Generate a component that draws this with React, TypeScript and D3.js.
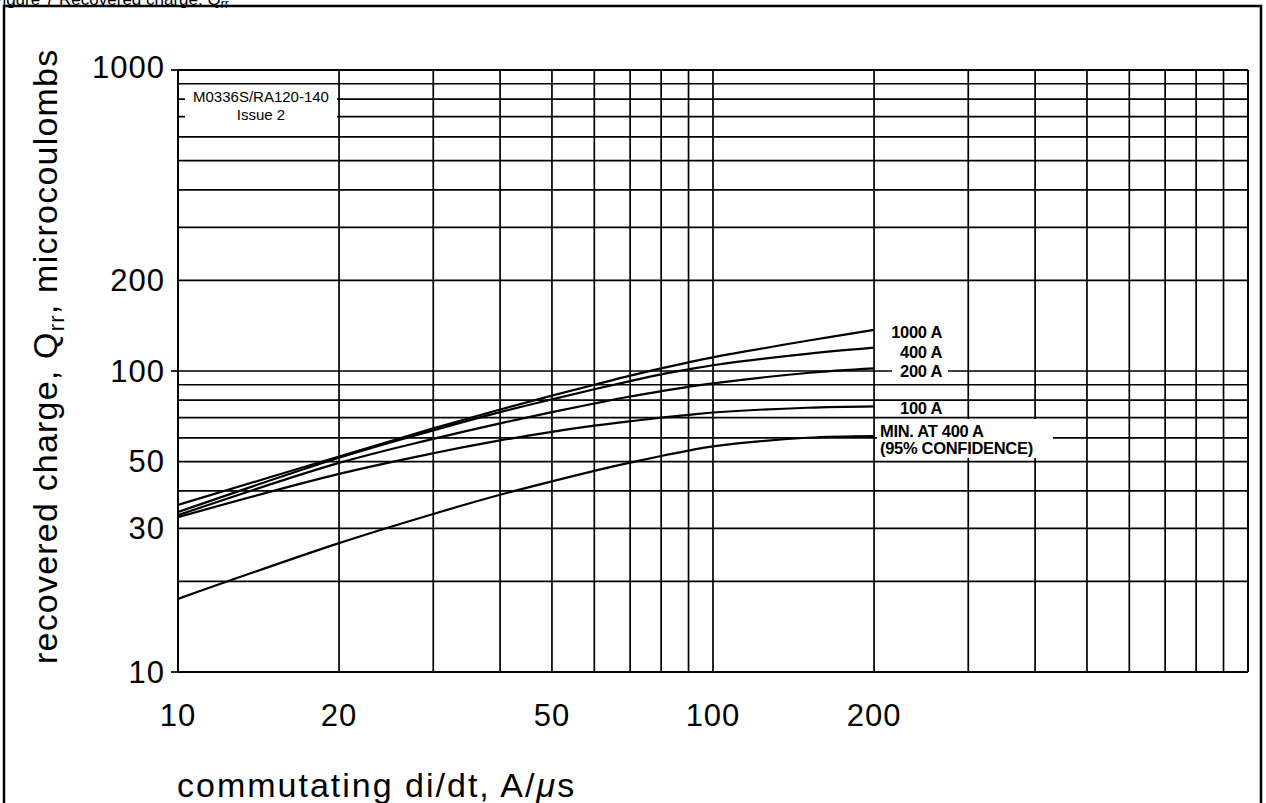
import React from 'react';
import * as d3 from 'd3';

// commutating di/dt, A/us
const DIDT = [10, 20, 30, 40, 50, 60, 70, 80, 90, 100, 150, 200];
// recovered charge Qrr, microcoulombs
const Q_1000A = [35.9, 52.0, 64.5, 74.5, 82.8, 90.0, 96.5, 102, 106.8, 111, 126, 137];
const Q_400A = [34.0, 51.5, 63.5, 73, 80.5, 87, 92.5, 97.5, 101.3, 104.5, 114, 119.5];
const Q_200A = [33.2, 49.5, 59.5, 67, 73, 78, 82.3, 85.7, 88.6, 91, 98.5, 102];
const Q_100A = [32.7, 45.5, 53.3, 58.8, 62.8, 65.8, 68.1, 70, 71.5, 72.8, 75.5, 76.3];
const Q_MIN = [17.5, 26.8, 33.5, 38.8, 43, 46.6, 49.6, 52.2, 54.4, 56.2, 60, 60.8];

const SERIES_NAMES = ['1000 A', '400 A', '200 A', '100 A'];
const MIN_LABEL = ['MIN. AT 400 A', '(95% CONFIDENCE)'];

const X_TICKS = [10, 20, 50, 100, 200];
const Y_TICKS = [1000, 200, 100, 50, 30, 10];
const GRID_VALUES = [10, 20, 30, 40, 50, 60, 70, 80, 90, 100, 200, 300, 400, 500, 600, 700, 800, 900, 1000];
const NOTE_LINES = ['M0336S/RA120-140', 'Issue 2'];

const FONT = "'Liberation Sans', Arial, Helvetica, sans-serif";

export default function App() {
  const W = 1266;
  const H = 803;
  const x = d3.scaleLog().domain([10, 1000]).range([178, 1248]);
  const y = d3.scaleLog().domain([10, 1000]).range([672, 70]);

  const line = d3
    .line<number>()
    .x((_, i) => x(DIDT[i]))
    .y((d) => y(d))
    .curve(d3.curveCatmullRom.alpha(0.5));

  const series = [Q_1000A, Q_400A, Q_200A, Q_100A];
  const labelDy = [2, 4, 3, 2];

  return (
    <svg
      width={W}
      height={H}
      viewBox={`0 0 ${W} ${H}`}
      style={{ position: 'absolute', left: 0, top: 0, background: '#fff' }}
      fontFamily={FONT}
    >
      <rect x={0} y={0} width={W} height={H} fill="#fff" />
      {/* caption, cut off at the top edge as in the scan */}
      <text x={-8} y={5} fontSize={17} fill="#000">
        Figure 7 Recovered charge, Q<tspan fontSize={12} dy={3}>rr</tspan>
      </text>
      {/* outer frame */}
      <rect x={4} y={6} width={1257} height={840} fill="none" stroke="#000" strokeWidth={2.5} />

      {/* grid */}
      <g stroke="#000">
        {GRID_VALUES.map((v) => (
          <line key={'v' + v} x1={x(v)} x2={x(v)} y1={y(10)} y2={y(1000)} strokeWidth={v === 10 || v === 1000 ? 2 : 1.7} />
        ))}
        {GRID_VALUES.map((v) => (
          <line key={'h' + v} x1={x(10)} x2={x(1000)} y1={y(v)} y2={y(v)} strokeWidth={v === 10 || v === 1000 ? 2 : 1.7} />
        ))}
        {[1000, 100, 10].map((v) => (
          <line key={'t' + v} x1={x(10) - 7} x2={x(10)} y1={y(v)} y2={y(v)} strokeWidth={1.7} />
        ))}
      </g>

      {/* white masks behind annotations */}
      <rect x={185} y={91} width={152} height={33} fill="#fff" />
      <rect x={892} y={363} width={56} height={16} fill="#fff" />
      <rect x={877} y={419} width={176} height={39} fill="#fff" />

      {/* note */}
      <g fontSize={15} textAnchor="middle" fill="#000">
        <text x={261} y={102}>{NOTE_LINES[0]}</text>
        <text x={261} y={120}>{NOTE_LINES[1]}</text>
      </g>

      {/* curves */}
      <g fill="none" stroke="#000" strokeWidth={2.2}>
        {series.map((s, i) => (
          <path key={i} d={line(s) || ''} />
        ))}
        <path d={line(Q_MIN) || ''} />
      </g>

      {/* curve labels */}
      <g fontSize={16.5} fontWeight="bold" fill="#000" textAnchor="end" dominantBaseline="central" letterSpacing={-0.3}>
        {series.map((s, i) => (
          <text key={i} x={942} y={y(s[s.length - 1]) + labelDy[i]}>
            {SERIES_NAMES[i]}
          </text>
        ))}
      </g>
      <g fontSize={16.5} fontWeight="bold" fill="#000" letterSpacing={-0.3}>
        <text x={880} y={y(Q_MIN[Q_MIN.length - 1]) + 1}>{MIN_LABEL[0]}</text>
        <text x={880} y={y(Q_MIN[Q_MIN.length - 1]) + 18}>{MIN_LABEL[1]}</text>
      </g>

      {/* y tick labels */}
      <g fontSize={31} fill="#000" textAnchor="end" dominantBaseline="central" letterSpacing={1}>
        {Y_TICKS.map((v) => (
          <text key={v} x={165} y={y(v) - (v === 1000 ? 3 : 0)}>
            {v}
          </text>
        ))}
      </g>
      {/* x tick labels */}
      <g fontSize={31} fill="#000" textAnchor="middle" dominantBaseline="central" letterSpacing={1}>
        {X_TICKS.map((v) => (
          <text key={v} x={x(v)} y={715}>
            {v}
          </text>
        ))}
      </g>

      {/* axis titles */}
      <text x={177} y={797} fontSize={34} letterSpacing={2} fill="#000">
        commutating di/dt, A/<tspan fontStyle="italic">μ</tspan>s
      </text>
      <text transform="translate(57,664) rotate(-90)" fontSize={34} letterSpacing={1.2} fill="#000">
        recovered charge, Q<tspan fontSize={22} dy={7}>rr</tspan>
        <tspan dy={-7}>, microcoulombs</tspan>
      </text>
    </svg>
  );
}
